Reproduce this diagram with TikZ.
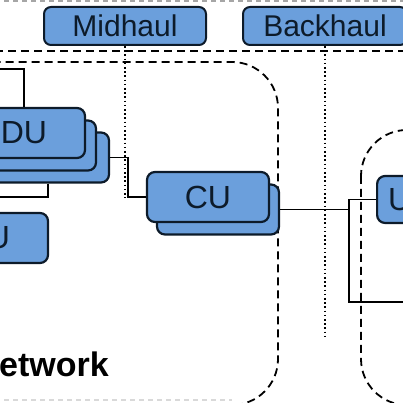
\documentclass[tikz,border=0pt]{standalone}
\usepackage{fontspec}
\setmainfont{Liberation Sans}
\usetikzlibrary{positioning}
\definecolor{boxblue}{HTML}{6B9FDC}
\definecolor{boxline}{HTML}{0D1B2A}
\begin{document}
\begin{tikzpicture}[x=1pt,y=1pt,
  unit/.style={rectangle,rounded corners=8pt,draw=boxline,line width=2.2pt,fill=boxblue,text=boxline,minimum width=122pt,minimum height=50pt,font=\fontsize{32}{38}\selectfont},
  tag/.style={rectangle,rounded corners=7pt,draw=boxline,line width=2pt,fill=boxblue,text=boxline,minimum height=38pt,font=\fontsize{30}{36}\selectfont},
  region/.style={line width=1.8pt,dash pattern=on 8pt off 5pt,rounded corners=46pt},
  split/.style={line width=1.7pt,dash pattern=on 1.6pt off 2.6pt},
  link/.style={line width=1.8pt}]
\useasboundingbox (0,0) rectangle (403,403);
\clip (0,0) rectangle (403,403);

\draw [gray!70,line width=1.5pt,dash pattern=on 5pt off 4pt] (-5,402) -- (410,402);
\draw [gray!30,line width=1.2pt,dash pattern=on 5pt off 4pt] (-5,3) -- (232,3);
\draw [region] (-60,341) rectangle (278,-2);
\draw [region] (361,273) rectangle (460,-2);
\draw [line width=1.8pt,dash pattern=on 8pt off 5pt] (-5,352) -- (410,352);

\node [tag,minimum width=162pt] (mid) at (125,377) {Midhaul};
\node [tag,minimum width=164pt] (back) at (325,377) {Backhaul};
\coordinate (midend) at (125,205);
\coordinate (backend) at (325,65);
\draw [split] (mid.south) -- (midend);
\draw [split] (back.south) -- (backend);

\node [unit] (du3) at (48,245.5) {};
\node [unit] (du2) at (35,257.5) {};
\node [unit] (du) at (24,270) {DU};
\node [unit] (du4) at (-13,165) {\phantom{D}U};
\node [unit] (cu2) at (218,193.5) {};
\node [unit] (cu) at (208,206) {CU};
\node [unit,anchor=west,minimum height=47pt,text width=100pt,align=left,inner xsep=9pt] (ru) at (376,203.5) {U};

\coordinate (dutop) at (-5,334);
\coordinate (dubot) at (-5,206);
\coordinate (tap) at (349,101);
\coordinate (tapend) at (410,101);
\draw [link] (du.north) |- (dutop);
\draw [link] (du3.south) |- (dubot);
\draw [link] (du3.east) -- ++(18,0) |- (cu.west);
\draw [link] (cu2.east) -- (cu2.east -| tap);
\draw [link] (ru.west) -| (tap) -- (tapend);

\node [font=\bfseries\fontsize{34}{40}\selectfont,anchor=base west,inner sep=0pt] (net) at (-1,26) {etwork};
\end{tikzpicture}
\end{document}
